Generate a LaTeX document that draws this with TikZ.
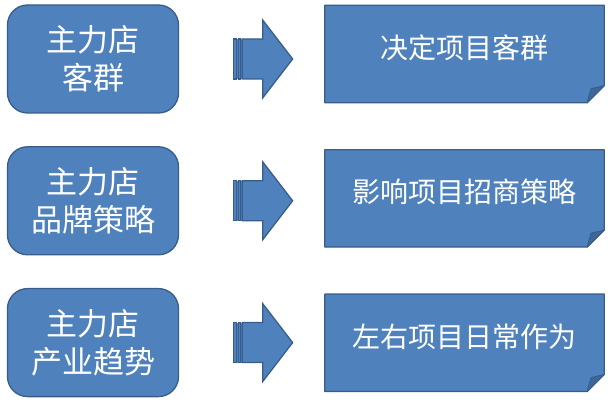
\documentclass[tikz,border=0pt]{standalone}
\usepackage{fontspec}
\newfontfamily\cjk{Noto Sans CJK SC}
\usetikzlibrary{positioning, calc, backgrounds}
\definecolor{boxblue}{HTML}{4F81BD}
\definecolor{edgeblue}{HTML}{385D8A}
\definecolor{foldblue}{HTML}{3E6797}

\begin{document}
\begin{tikzpicture}[x=1pt, y=-1pt, node distance=32.5pt,
    every node/.style={text=white},
    hub/.style={draw=edgeblue, fill=boxblue, line width=1.3pt, rounded corners=20pt,
        minimum width=171pt, minimum height=108pt, align=center,
        font=\cjk\fontsize{31}{38}\selectfont},
    note/.style={minimum width=279pt, minimum height=97pt, text height=24pt, text depth=15pt,
        font=\cjk\fontsize{28}{34}\selectfont},
    notebox/.style={draw=edgeblue, fill=boxblue, line width=1.3pt, line join=round},
    stripe/.style={draw=edgeblue, fill=boxblue, line width=1.3pt}]
    \useasboundingbox (0,0) rectangle (616,403);

    \node [hub] (hub1) at (93,59) {主力店\\客群};
    \node [hub] (hub2) [below=of hub1] {主力店\\品牌策略};
    \node [hub] (hub3) [below=of hub2] {主力店\\产业趋势};

    \node [note] (note1) at (464.5,54) {决定项目客群};
    \node [note] (note2) [below=47pt of note1] {影响项目招商策略};
    \node [note] (note3) [below=47pt of note2] {左右项目日常作为};

    % folded-corner boxes behind the texts
    \begin{scope}[on background layer]
    \foreach \n in {note1, note2, note3} {
        \draw [notebox] (\n.north west) -- (\n.north east) -- ([yshift=17pt]\n.south east)
            -- ([xshift=-17pt]\n.south east) -- (\n.south west) -- cycle;
        \draw [notebox, fill=foldblue, line width=0.8pt] ([xshift=-17pt]\n.south east)
            .. controls ([xshift=-15pt,yshift=8pt]\n.south east) .. ([xshift=-13pt,yshift=14pt]\n.south east)
            -- ([yshift=17pt]\n.south east) -- cycle;
    }
    \end{scope}

    % striped arrows
    \foreach \i in {1,2,3} {
        \coordinate (tail\i) at ([xshift=54.5pt]hub\i.east);
        \fill [boxblue] ($(tail\i)+(0,-20)$) rectangle ++(9,40);
        \draw [stripe] ($(tail\i)+(0,-20)$) rectangle ++(3,40);
        \draw [stripe] ($(tail\i)+(4.5,-20)$) rectangle ++(2.5,40);
        \draw [stripe] ($(tail\i)+(8.5,-20)$) -- ++(20.5,0) -- ++(0,-19) -- ($(tail\i)+(59,0)$)
            -- ($(tail\i)+(29,39)$) -- ++(0,-19) -- ($(tail\i)+(8.5,20)$) -- cycle;
    }
\end{tikzpicture}
\end{document}
